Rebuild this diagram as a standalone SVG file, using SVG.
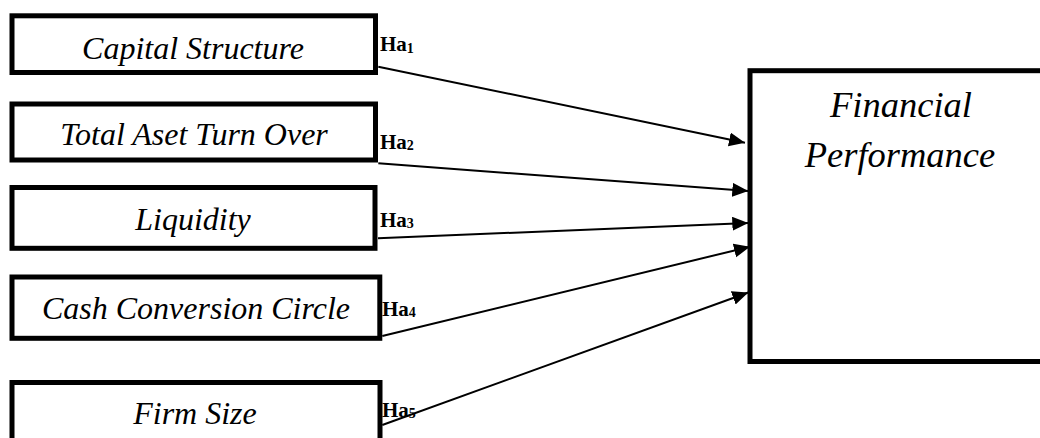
<svg xmlns="http://www.w3.org/2000/svg" width="1040" height="438" viewBox="0 0 1040 438">
  <style>
    .box { fill: #ffffff; stroke: #000000; stroke-width: 5; }
    .var { font-family: "Liberation Serif", "Times New Roman", serif; font-style: italic; font-size: 32px; fill: #000000; text-anchor: middle; }
    .dep { font-family: "Liberation Serif", "Times New Roman", serif; font-style: italic; font-size: 36.5px; fill: #000000; text-anchor: middle; }
    .hyp { font-family: "Liberation Serif", "Times New Roman", serif; font-weight: bold; font-size: 21px; fill: #000000; }
    .sub { font-size: 14px; }
    .link { stroke: #000000; stroke-width: 2; fill: none; marker-end: url(#arrow); }
  </style>
  <defs>
    <marker id="arrow" markerUnits="userSpaceOnUse" markerWidth="17" markerHeight="15" refX="16" refY="7" orient="auto">
      <path d="M0,0 L16,7 L0,14 Z" fill="#000000"/>
    </marker>
  </defs>
  <rect width="1040" height="438" fill="#ffffff"/>

  <!-- independent variables -->
  <g id="capital-structure">
    <rect class="box" x="12" y="15.8" width="363.5" height="56.7"/>
    <text class="var" x="193" y="58.5">Capital Structure</text>
  </g>
  <g id="total-asset-turnover">
    <rect class="box" x="12" y="104" width="363.5" height="56"/>
    <text class="var" x="194" y="145">Total Aset Turn Over</text>
  </g>
  <g id="liquidity">
    <rect class="box" x="12" y="187.5" width="363" height="60.8"/>
    <text class="var" x="193" y="230">Liquidity</text>
  </g>
  <g id="cash-conversion">
    <rect class="box" x="12" y="277" width="367.8" height="61.3"/>
    <text class="var" x="196" y="318.5">Cash Conversion Circle</text>
  </g>
  <g id="firm-size">
    <rect class="box" x="12" y="382.5" width="368" height="80"/>
    <text class="var" x="195" y="423.5">Firm Size</text>
  </g>

  <!-- dependent variable (right edge runs past the frame) -->
  <g id="financial-performance">
    <rect class="box" x="750" y="70.7" width="400" height="290.8"/>
    <text class="dep" x="901" y="116.7">Financial</text>
    <text class="dep" x="900" y="166.7">Performance</text>
  </g>

  <!-- hypothesis paths -->
  <g id="connectors">
    <line class="link" x1="378.3" y1="66.7" x2="745" y2="142.7"/>
    <line class="link" x1="378.3" y1="163.3" x2="748.3" y2="191"/>
    <line class="link" x1="378" y1="238.3" x2="748.3" y2="223"/>
    <line class="link" x1="382.3" y1="336" x2="750" y2="246.7"/>
    <line class="link" x1="382.3" y1="425" x2="748.3" y2="292.5"/>
  </g>

  <g id="hypothesis-labels">
    <text class="hyp" x="380" y="51">Ha<tspan class="sub" dy="2">1</tspan></text>
    <text class="hyp" x="380" y="149">Ha<tspan class="sub" dy="1">2</tspan></text>
    <text class="hyp" x="380" y="227">Ha<tspan class="sub" dy="1">3</tspan></text>
    <text class="hyp" x="382" y="315.5">Ha<tspan class="sub" dy="1">4</tspan></text>
    <text class="hyp" x="382" y="416.5">Ha<tspan class="sub" dy="1">5</tspan></text>
  </g>
</svg>
